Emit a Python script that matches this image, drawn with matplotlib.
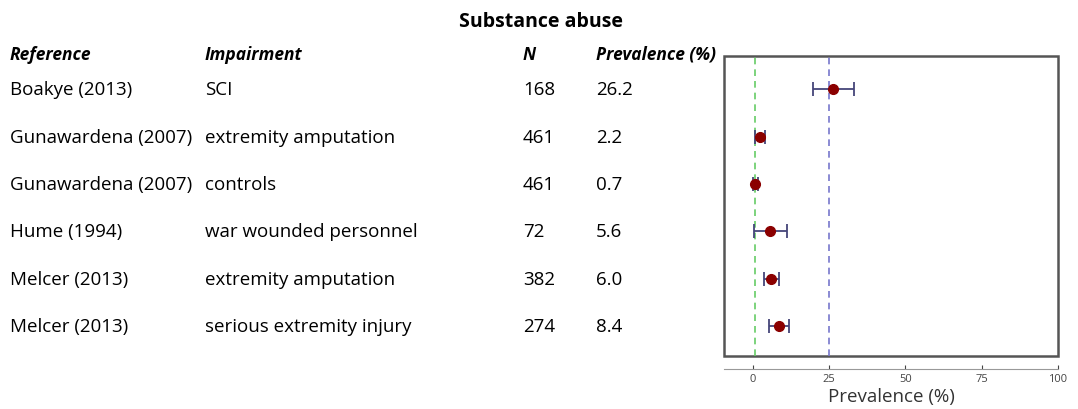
import matplotlib.pyplot as plt
import matplotlib.transforms as mtransforms
from matplotlib.patches import Rectangle

# dados
referencias = ["Boakye (2013)", "Gunawardena (2007)", "Gunawardena (2007)",
               "Hume (1994)", "Melcer (2013)", "Melcer (2013)"]
impairments = ["SCI", "extremity amputation", "controls",
               "war wounded personnel", "extremity amputation",
               "serious extremity injury"]
n_vals = [168, 461, 461, 72, 382, 274]
prevalencia = [26.2, 2.2, 0.7, 5.6, 6.0, 8.4]
ci_baixo = [19.7, 0.8, 0.0, 0.4, 3.7, 5.3]
ci_alto = [33.0, 3.9, 1.6, 11.2, 8.6, 11.9]
ref_verde = 0.6
ref_azul = 25
xticks = [0, 25, 50, 75, 100]

plt.rcParams['font.family'] = ['Open Sans', 'DejaVu Sans']

fig = plt.figure(figsize=(10.78, 4.10), dpi=100)
ax = fig.add_axes([724 / 1078, 1 - 357 / 410, 334 / 1078, 300 / 410])

ys = list(range(len(prevalencia)))
err = [[p - lo for p, lo in zip(prevalencia, ci_baixo)],
       [hi - p for p, hi in zip(prevalencia, ci_alto)]]

ax.axvline(ref_verde, color='#66cc66', linestyle='--', linewidth=1.2, dashes=(4, 3))
ax.axvline(ref_azul, color='#7777cc', linestyle='--', linewidth=1.2, dashes=(4, 3))
ax.errorbar(prevalencia, ys, xerr=err, fmt='o', color='#8b0000',
            ecolor='#45457a', elinewidth=1.3, capsize=5, capthick=1.3,
            markersize=7, zorder=3)

ax.set_xlim(-9.5, 100)
ax.set_ylim(5.63, -0.70)
ax.set_yticks([])
ax.set_xticks(xticks)
ax.tick_params(axis='x', labelsize=8, colors='#444444', length=3, direction='in')
for s in ['top', 'left', 'right']:
    ax.spines[s].set_visible(False)
ax.spines['bottom'].set_position(('outward', 9))
ax.spines['bottom'].set_color('#999999')
ax.add_patch(Rectangle((0, 0), 1, 1, transform=ax.transAxes, fill=False,
                       edgecolor='#555555', linewidth=1.8, clip_on=False))
ax.set_xlabel('Prevalence (%)', fontsize=13.5, color='#333333', labelpad=2)

# tabela à esquerda
trans = mtransforms.blended_transform_factory(fig.transFigure, ax.transData)
cols = [10 / 1078, 205 / 1078, 523 / 1078, 596 / 1078]
for i in ys:
    ax.text(cols[0], i, referencias[i], transform=trans, fontsize=13.5, va='center', clip_on=False)
    ax.text(cols[1], i, impairments[i], transform=trans, fontsize=13.5, va='center', clip_on=False)
    ax.text(cols[2], i, str(n_vals[i]), transform=trans, fontsize=13.5, va='center', clip_on=False)
    ax.text(cols[3], i, f"{prevalencia[i]:.1f}", transform=trans, fontsize=13.5, va='center', clip_on=False)

cab = ["Reference", "Impairment", "N", "Prevalence (%)"]
for x, t in zip(cols, cab):
    fig.text(x, 1 - 55 / 410, t, fontsize=12.5, style='italic', weight='bold', va='center')

fig.text(541 / 1078, 1 - 22 / 410, 'Substance abuse', fontsize=14, weight='bold',
         ha='center', va='center')

plt.savefig('out.png', dpi=100)
